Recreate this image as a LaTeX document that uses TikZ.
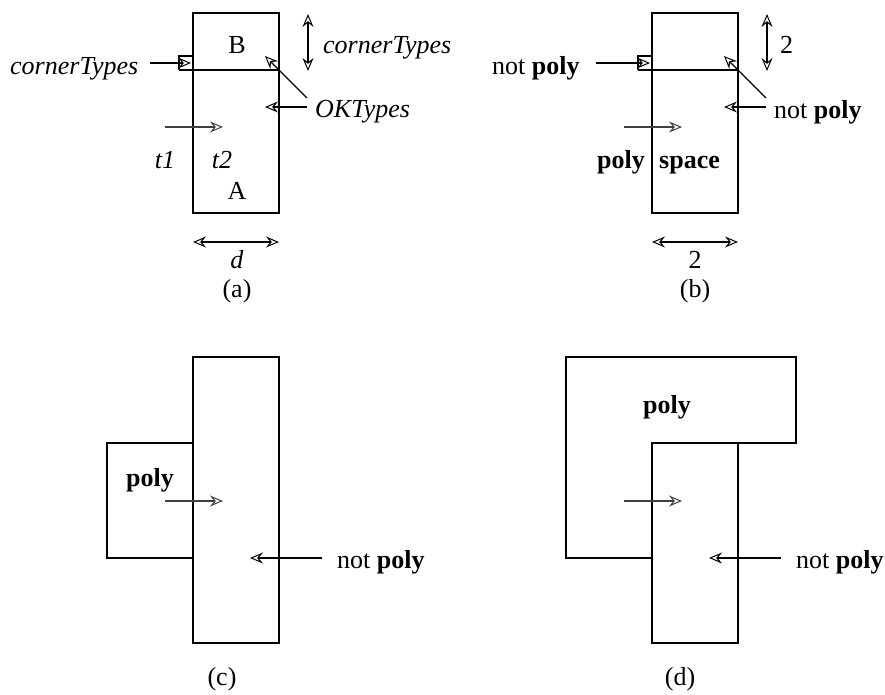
\documentclass[tikz,border=0pt]{standalone}
\usepackage{fontspec}
\setmainfont{Liberation Serif}
\usetikzlibrary{arrows.meta}
\begin{document}
\begin{tikzpicture}[x=1pt,y=-1pt,
  lbl/.style={inner sep=0pt,font=\fontsize{26}{30}\selectfont},
  box/.style={draw=black,line width=1.2pt},
  tip/.tip={Stealth[open,length=13pt,width=11pt,inset=4.5pt,line width=1pt]},
  arr/.style={draw=black,line width=1.1pt,-tip},
  darr/.style={draw=black,line width=1.1pt,tip-tip},
  garr/.style={arr,draw=black!75,line width=1.4pt}]
\useasboundingbox (0,0) rectangle (885,694);
% ---------- (a)
\draw[box] (193,13) rectangle (279,213);
\draw[box] (179,70) -- (279,70);
\draw[box] (179,70) -- (179,56) -- (193,56);
\node[lbl,anchor=base west] (a-ct1) at (10,74) {\textit{cornerTypes}};
\node[lbl,anchor=base west] (a-ct2) at (323,53) {\textit{cornerTypes}};
\node[lbl,anchor=base west] (a-ok) at (315,117) {\textit{OKTypes}};
\node[lbl,anchor=base] (a-t1) at (165,168) {\textit{t1}};
\node[lbl,anchor=base] (a-t2) at (222,168) {\textit{t2}};
\node[lbl,anchor=base] (a-A) at (237,199) {A};
\node[lbl,anchor=base] (a-B) at (237,53) {B};
\node[lbl,anchor=base] (a-d) at (237,268) {\textit{d}};
\node[lbl,anchor=base] (a-cap) at (237,297) {(a)};
\coordinate (a1s) at (150,63); \coordinate (a1e) at (191,63);
\draw[arr] (a1s) -- (a1e);
\coordinate (a2s) at (308,14); \coordinate (a2e) at (308,71);
\draw[darr] (a2s) -- (a2e);
\coordinate (a3s) at (307,107); \coordinate (a3e) at (265,107);
\draw[arr] (a3s) -- (a3e);
\coordinate (a4s) at (307,98); \coordinate (a4e) at (265,56);
\draw[arr] (a4s) -- (a4e);
\coordinate (a5s) at (165,127); \coordinate (a5e) at (223,127);
\draw[garr] (a5s) -- (a5e);
\coordinate (a6s) at (193,242); \coordinate (a6e) at (279,242);
\draw[darr] (a6s) -- (a6e);
% ---------- (b)
\draw[box] (652,13) rectangle (738,213);
\draw[box] (638,70) -- (738,70);
\draw[box] (638,70) -- (638,56) -- (652,56);
\node[lbl,anchor=base west] (b-np1) at (492,74) {not \textbf{poly}};
\node[lbl,anchor=base west] (b-2a) at (780,53) {2};
\node[lbl,anchor=base west] (b-np2) at (774,118) {not \textbf{poly}};
\node[lbl,anchor=base west] (b-poly) at (597,168) {\textbf{poly}};
\node[lbl,anchor=base west] (b-space) at (659,168) {\textbf{space}};
\node[lbl,anchor=base] (b-2b) at (695,268) {2};
\node[lbl,anchor=base] (b-cap) at (695,297) {(b)};
\coordinate (b1s) at (596,63); \coordinate (b1e) at (650,63);
\draw[arr] (b1s) -- (b1e);
\coordinate (b2s) at (767,14); \coordinate (b2e) at (767,71);
\draw[darr] (b2s) -- (b2e);
\coordinate (b3s) at (766,107); \coordinate (b3e) at (724,107);
\draw[arr] (b3s) -- (b3e);
\coordinate (b4s) at (766,98); \coordinate (b4e) at (724,56);
\draw[arr] (b4s) -- (b4e);
\coordinate (b5s) at (624,127); \coordinate (b5e) at (682,127);
\draw[garr] (b5s) -- (b5e);
\coordinate (b6s) at (652,242); \coordinate (b6e) at (738,242);
\draw[darr] (b6s) -- (b6e);
% ---------- (c)
\draw[box] (193,357) rectangle (279,643);
\draw[box] (193,443) -- (107,443) -- (107,558) -- (193,558);
\node[lbl,anchor=base] (c-poly) at (150,486) {\textbf{poly}};
\node[lbl,anchor=base west] (c-np) at (337,568) {not \textbf{poly}};
\node[lbl,anchor=base] (c-cap) at (222,685) {(c)};
\coordinate (c1s) at (165,501); \coordinate (c1e) at (223,501);
\draw[garr] (c1s) -- (c1e);
\coordinate (c2s) at (322,558); \coordinate (c2e) at (250,558);
\draw[arr] (c2s) -- (c2e);
% ---------- (d)
\draw[box] (652,443) rectangle (738,643);
\draw[box] (652,443) -- (796,443) -- (796,357) -- (566,357) -- (566,558) -- (652,558);
\node[lbl,anchor=base] (d-poly) at (667,413) {\textbf{poly}};
\node[lbl,anchor=base west] (d-np) at (796,568) {not \textbf{poly}};
\node[lbl,anchor=base] (d-cap) at (680,685) {(d)};
\coordinate (d1s) at (624,501); \coordinate (d1e) at (682,501);
\draw[garr] (d1s) -- (d1e);
\coordinate (d2s) at (781,558); \coordinate (d2e) at (709,558);
\draw[arr] (d2s) -- (d2e);
\end{tikzpicture}
\end{document}
